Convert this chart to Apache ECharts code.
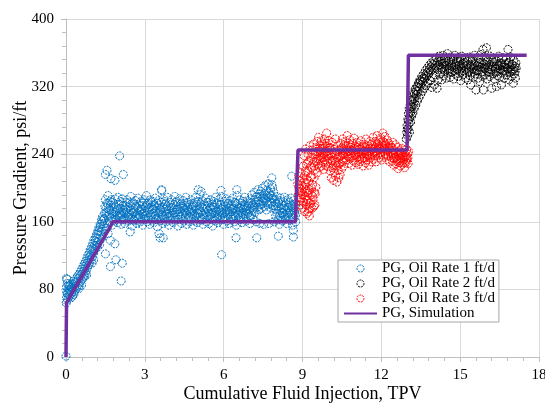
<!DOCTYPE html>
<html>
<head>
<meta charset="utf-8">
<script src="https://cdn.jsdelivr.net/npm/echarts@6/dist/echarts.min.js"></script>
<style>
html,body{margin:0;padding:0;background:#fff;}
#chart{width:545px;height:406px;}
</style>
</head>
<body>
<div id="chart"></div>
<script>
// ---- data ----
const xTicks = [0, 3, 6, 9, 12, 15, 18];
const yTicks = [0, 80, 160, 240, 320, 400];
const seriesNames = ['PG, Oil Rate 1 ft/d', 'PG, Oil Rate 2 ft/d', 'PG, Oil Rate 3 ft/d', 'PG, Simulation'];

// Oil Rate 1 ft/d
const rate1Points = [
[0,1],[0.01,64],[0.02,70],[0.03,76],[0.02,83],[0.04,92],[0.02,93],[0.06,68],[0.07,74],[0.08,80],[0.05,87],[0.1,71],[0.12,77],[0.13,84],[0.15,73],[0.17,79],[0.19,70],[0.2,82],[0.22,76],[0.25,72],[0.27,80],[0.29,86],[0.31,77],[0.33,83],[0.36,79],[0.38,88],[0.4,82],[0.42,90],[0.45,85],[0.47,93],[0.49,81],[0.52,88],[0.54,96],[0.57,90],[0.59,85],[0.61,98],[0.64,93],[0.66,101],[0.68,96],[0.7,95],[0.71,104],[0.73,99],[0.75,108],[0.77,102],[0.8,111],[0.82,106],[0.84,114],[0.87,109],[0.89,118],[0.91,112],[0.94,121],[0.96,116],[0.98,126],[0.99,111],[1.01,119],[1.03,128],[1.05,123],[1.08,132],[1.1,127],[1.12,137],[1.15,131],[1.17,141],[1.19,135],[1.2,130],[1.22,146],[1.24,139],[1.26,150],[1.29,144],[1.31,154],[1.33,148],[1.36,158],[1.38,151],[1.4,161],[1.42,155],[1.44,164],[1.46,158],
[0.05,75],[0.09,85],[0.14,80],[0.18,86],[0.23,83],[0.28,90],[0.34,88],[0.39,93],[0.44,96],[0.5,98],[0.55,101],[0.6,104],[0.65,107],[0.69,110],[0.74,113],[0.79,116],[0.83,120],[0.88,123],[0.92,127],[0.97,130],[1.02,134],[1.06,138],[1.11,141],[1.16,145],[1.21,149],[1.25,153],[1.3,157],[1.35,162],[1.39,166],[0.3,74],[0.5,84],[0.78,97],[1.05,115],[1.28,133],[1.35,140],
[1.46,163],[1.48,178],[1.5,186],[1.52,171],[1.54,152],[1.56,182],[1.58,167],[1.6,191],[1.62,175],[1.64,160],[1.66,174],[1.68,184],[1.7,179],[1.72,165],[1.74,170],[1.76,156],[1.78,183],[1.8,172],[1.82,169],[1.84,176],[1.86,161],[1.88,187],[1.9,163],[1.92,177],[1.94,173],[1.96,159],[1.98,189],
[2,166],[2.02,181],[2.04,170],[2.06,176],[2.08,168],[2.1,157],[2.12,162],[2.14,187],[2.16,174],[2.18,180],[2.2,171],[2.22,164],[2.24,158],[2.26,175],[2.28,183],[2.3,170],[2.32,186],[2.34,166],[2.36,177],[2.38,161],[2.4,172],[2.42,165],[2.44,179],[2.46,190],[2.48,174],[2.5,168],[2.52,155],
[2.54,183],[2.56,162],[2.58,176],[2.6,161],[2.62,172],[2.64,185],[2.66,178],[2.68,167],[2.7,158],[2.72,170],[2.74,188],[2.76,164],[2.78,181],[2.8,173],[2.82,160],[2.84,166],[2.86,184],[2.88,175],[2.9,169],[2.92,156],[2.94,179],[2.96,186],[2.98,163],[3,172],[3.02,177],[3.04,167],[3.06,191],
[3.08,160],[3.1,174],[3.12,182],[3.14,165],[3.16,171],[3.18,157],[3.2,186],[3.22,169],[3.24,178],[3.26,162],[3.28,175],[3.3,184],[3.32,170],[3.34,159],[3.36,180],[3.38,166],[3.4,188],[3.42,173],[3.44,163],[3.46,177],[3.48,154],[3.5,171],[3.52,185],[3.54,167],[3.56,179],[3.58,161],[3.6,174],
[3.62,183],[3.64,197],[3.66,168],[3.68,158],[3.7,176],[3.72,187],[3.74,164],[3.76,172],[3.78,181],[3.8,160],[3.82,169],[3.84,178],[3.86,189],[3.88,165],[3.9,174],[3.92,156],[3.94,183],[3.96,170],[3.98,162],[4,177],[4.02,186],[4.04,167],[4.06,173],[4.08,159],[4.1,180],[4.12,165],[4.14,190],
[4.16,171],[4.18,162],[4.2,178],[4.22,184],[4.24,168],[4.26,155],[4.28,175],[4.3,163],[4.32,187],[4.34,172],[4.36,166],[4.38,181],[4.4,158],[4.42,176],[4.44,169],[4.46,185],[4.48,161],[4.5,174],[4.52,179],[4.54,164],[4.56,189],[4.58,170],[4.6,157],[4.62,177],[4.64,183],[4.66,166],[4.68,173],
[4.7,160],[4.72,180],[4.74,171],[4.76,186],[4.78,163],[4.8,175],[4.82,168],[4.84,156],[4.86,182],[4.88,173],[4.9,161],[4.92,178],[4.94,189],[4.96,167],[4.98,174],[5,159],[5.02,184],[5.04,170],[5.06,165],[5.08,179],[5.1,192],[5.12,172],[5.14,162],[5.16,177],[5.18,185],[5.2,168],[5.22,157],
[5.24,175],[5.26,181],[5.28,164],[5.3,171],[5.32,188],[5.34,160],[5.36,176],[5.38,167],[5.4,183],[5.42,173],[5.44,158],[5.46,179],[5.48,169],[5.5,186],[5.52,163],[5.54,174],[5.56,180],[5.58,155],[5.6,170],[5.62,184],[5.64,166],[5.66,177],[5.68,161],[5.7,189],[5.72,172],[5.74,165],[5.76,181],
[5.78,159],[5.8,175],[5.82,186],[5.84,168],[5.86,173],[5.88,162],[5.9,180],[5.92,190],[5.94,170],[5.96,164],[5.98,177],[6,157],[6.02,184],[6.04,171],[6.06,166],[6.08,179],[6.1,187],[6.12,161],[6.14,174],[6.16,168],[6.18,182],[6.2,158],[6.22,176],[6.24,185],[6.26,165],[6.28,172],[6.3,180],
[6.32,163],[6.34,188],[6.36,170],[6.38,176],[6.4,160],[6.42,183],[6.44,167],[6.46,174],[6.48,156],[6.5,181],[6.52,191],[6.54,169],[6.56,177],[6.58,162],[6.6,173],[6.62,186],[6.64,166],[6.66,179],[6.68,171],[6.7,159],[6.72,184],[6.74,175],[6.76,164],[6.78,180],[6.8,189],[6.82,168],[6.84,174],
[6.86,161],[6.88,178],[6.9,185],[6.92,170],[6.94,165],[6.96,182],[6.98,174],[7,158],[7.02,187],[7.04,176],[7.06,168],[7.08,192],[7.1,180],[7.12,163],[7.14,173],[7.16,186],[7.18,195],[7.2,171],[7.22,183],[7.24,160],[7.26,190],[7.28,177],[7.3,198],[7.32,185],[7.34,174],[7.36,193],[7.38,158],
[7.4,181],[7.42,196],[7.44,176],[7.46,188],[7.48,200],[7.5,184],[7.52,157],[7.54,193],[7.56,178],[7.58,203],[7.6,186],[7.62,174],[7.64,197],[7.66,190],[7.68,180],[7.7,205],[7.72,158],[7.74,194],[7.76,183],[7.78,199],[7.8,176],[7.82,191],[7.84,187],[7.86,201],[7.88,179],[7.9,195],[7.92,160],
[7.94,186],[7.96,175],[7.98,167],[8,182],[8.02,190],[8.04,170],[8.06,162],[8.08,178],[8.1,185],[8.12,157],[8.14,173],[8.16,188],[8.18,166],[8.2,180],[8.22,171],[8.24,161],[8.26,184],[8.28,176],[8.3,168],[8.32,189],[8.34,163],[8.36,174],[8.38,181],[8.4,158],[8.42,170],[8.44,186],[8.46,165],
[8.48,177],[8.5,183],[8.52,162],[8.54,172],[8.56,188],[8.58,168],[8.6,179],[8.62,156],[8.64,174],[8.66,185],[8.68,164],[8.7,171],[8.72,181],[8.74,160],[8.76,176],
[1.47,170],[1.53,176],[1.59,181],[1.65,168],[1.71,186],[1.77,164],[1.83,180],[1.89,171],[1.95,167],[2.01,175],[2.07,184],[2.13,169],[2.19,163],[2.25,179],[2.31,174],[2.37,168],[2.43,183],[2.49,163],[2.55,171],[2.61,180],[2.67,165],[2.73,177],[2.79,168],[2.85,174],[2.91,182],[2.97,170],[3.03,164],[3.09,181],[3.15,176],[3.21,165],[3.27,183],[3.33,175],[3.39,168],[3.45,182],[3.51,164],[3.57,172],[3.63,177],[3.69,166],[3.75,184],[3.81,175],[3.87,170],[3.93,167],[3.99,180],[4.05,176],[4.11,171],[4.17,183],[4.23,175],[4.29,169],[4.35,180],[4.41,166],[4.47,177],[4.53,171],[4.59,182],[4.65,175],[4.71,166],[4.77,172],[4.83,179],[4.89,168],[4.95,183],[5.01,170],[5.07,174],[5.13,181],[5.19,163],[5.25,168],[5.31,178],[5.37,183],[5.43,166],[5.49,176],[5.55,169],[5.61,177],[5.67,171],[5.73,182],[5.79,167],[5.85,180],[5.91,175],[5.97,169],[6.03,165],[6.09,172],[6.15,181],[6.21,170],[6.27,178],[6.33,175],[6.39,167],[6.45,182],[6.51,172],[6.57,168],[6.63,176],[6.69,182],[6.75,169],[6.81,177],[6.87,172],[6.93,179],[6.99,167],[7.05,182],[7.11,175],[7.17,178],[7.23,189],[7.29,184],[7.35,180],[7.41,190],[7.47,181],[7.53,187],[7.59,192],[7.65,183],[7.71,189],[7.77,192],[7.83,182],[7.89,188],[7.95,179],[8.01,174],[8.07,183],[8.13,167],[8.19,176],[8.25,170],[8.31,179],[8.37,166],[8.43,177],[8.49,170],[8.55,180],[8.61,166],[8.67,177],[8.73,168],
[2.04,238],[1.56,221],[1.5,216],[1.71,211],[1.86,209],[2.18,216],[1.5,122],[1.69,107],[1.9,115],[2.14,111],[2.1,90],[1.86,134],[1.69,138],[1.6,146],[2.44,148],[3.58,141],[3.7,141],[3.54,146],[5.92,121],[6.47,141],[7.26,141],[8.08,143],[8.65,150],[8.65,142],[5.03,198],[5.9,197],[6.5,198],[7.83,212],[7.83,204],[8.59,214],[3.64,198],[5.14,196]
];

// Oil Rate 2 ft/d
const rate2Points = [
[12.95,258],[12.97,266],[12.98,274],[13,262],[13.01,281],[13.02,270],[13.03,288],[13.05,276],[13.06,294],[13.07,266],[13.08,284],[13.1,298],[13.11,278],[13.12,290],[13.14,304],[13.15,285],[13.17,296],[13.18,308],[13.2,289],[13.22,300],[13.23,313],[13.25,294],[13.27,306],[13.29,317],[13.31,298],[13.33,310],[13.35,320],[13.37,303],[13.39,314],[13.41,324],[13.43,307],[13.45,318],[13.47,328],[13.5,311],[13.52,322],[13.54,332],[13.57,315],[13.59,326],[13.61,335],[13.63,318],[13.66,329],[13.68,339],[13.7,321],[13.72,332],[13.75,342],[13.77,324],[13.8,335],[13.82,345],[13.85,327],[13.87,338],[13.9,348],[13.92,319],[13.95,331],[13.97,341],[14,351],[14.02,322],[14.05,334],[14.07,345],[14.1,354],[14.12,318],[14.15,328],[14.17,340],[14.2,356],
[12.99,270],[13.04,280],[13.09,291],[13.13,296],[13.16,302],[13.21,305],[13.26,311],[13.32,315],[13.38,320],[13.44,324],[13.49,326],[13.56,329],[13.62,330],[13.69,334],[13.76,337],[13.83,340],[13.89,343],[13.96,346],[14.03,348],[14.09,342],[14.14,349],[14.19,345],
[14.22,346],[14.25,335],[14.27,352],[14.3,328],[14.32,341],[14.35,357],[14.37,333],[14.4,348],[14.42,338],[14.45,354],[14.47,330],[14.5,344],[14.52,359],[14.55,336],[14.57,350],[14.6,341],[14.62,331],[14.65,355],[14.67,346],[14.7,337],[14.72,352],[14.75,329],[14.77,343],[14.8,357],[14.82,335],[14.85,348],[14.87,340],[14.9,354],[14.92,332],[14.95,345],[14.97,338],[15,351],[15.02,327],[15.05,342],[15.07,356],[15.1,334],[15.12,347],[15.15,339],[15.17,353],[15.2,330],[15.22,344],[15.25,336],[15.27,350],[15.3,328],[15.32,341],[15.35,355],[15.37,333],[15.4,322],[15.42,346],[15.45,337],[15.47,352],[15.5,331],[15.52,343],[15.55,357],[15.57,335],[15.6,316],[15.62,348],[15.65,339],[15.67,330],[15.7,353],[15.72,344],[15.75,326],[15.77,358],[15.8,337],[15.82,349],[15.85,332],[15.87,364],[15.88,316],[15.9,342],[15.92,355],[15.95,334],[15.97,346],[16,366],[16.02,329],[16.05,351],[16.07,338],[16.1,344],[16.12,332],[16.15,356],[16.17,340],[16.2,318],[16.22,349],[16.25,335],[16.27,353],[16.3,329],[16.32,343],[16.35,337],[16.38,320],[16.4,350],[16.42,333],[16.45,345],[16.47,356],[16.5,331],[16.52,341],[16.55,348],[16.57,322],[16.6,336],[16.62,354],[16.65,339],[16.67,330],[16.7,347],[16.72,343],[16.75,352],[16.77,334],[16.8,341],[16.82,364],[16.85,328],[16.87,349],[16.9,337],[16.92,355],[16.95,332],[16.97,346],[17,339],[17.02,324],[17.04,351],[17.06,335],[17.08,344],[17.1,330],[17.12,348],
[14.24,350],[14.29,342],[14.34,347],[14.39,340],[14.44,345],[14.49,351],[14.54,341],[14.59,348],[14.64,338],[14.69,344],[14.74,350],[14.79,339],[14.84,346],[14.89,341],[14.94,350],[14.99,344],[15.04,337],[15.09,347],[15.14,342],[15.19,349],[15.24,340],[15.29,346],[15.34,338],[15.39,344],[15.44,350],[15.49,341],[15.54,346],[15.59,339],[15.64,345],[15.69,340],[15.74,348],[15.79,343],[15.84,338],[15.89,347],[15.94,341],[15.99,349],[16.04,343],[16.09,337],[16.14,346],[16.19,340],[16.24,344],[16.29,349],[16.34,341],[16.39,346],[16.44,338],[16.49,345],[16.54,340],[16.59,347],[16.64,343],[16.69,338],[16.74,346],[16.79,341],[16.84,348],[16.89,343],[16.94,339],[16.99,346],[17.04,341],[17.09,338],[17.13,342]
];

// Oil Rate 3 ft/d
const rate3Points = [
[8.82,205],[8.84,192],[8.85,214],[8.87,185],[8.88,199],[8.9,208],[8.91,180],[8.93,195],[8.94,218],[8.96,188],[8.97,203],[8.99,176],[9,211],[9.01,192],[9.03,226],[9.04,183],[9.05,200],[9.07,238],[9.08,172],[9.09,215],[9.1,190],[9.12,246],[9.13,205],[9.14,180],[9.15,228],[9.17,196],[9.18,170],[9.19,220],[9.2,186],[9.21,240],[9.23,208],[9.24,175],[9.25,232],[9.26,167],[9.27,198],[9.28,250],[9.3,213],[9.31,182],[9.32,236],[9.33,192],[9.35,224],[9.36,176],[9.37,245],[9.38,204],[9.4,186],[9.41,230],[9.42,252],[9.44,212],[9.45,195],[9.46,240],[9.47,180],[9.49,222],[9.5,248],[9.51,201],
[8.86,200],[8.92,188],[8.98,196],[9.02,184],[9.06,207],[9.11,198],[9.16,186],[9.22,194],[9.27,182],[9.29,176],[9.34,200],[9.39,190],[9.43,178],[9.48,193],[9.11,220],[9.2,230],[9.3,225],[9.4,240],[9.45,226],[9.34,213],[9.22,172],[9.16,210],
[9.53,232],[9.55,255],[9.56,218],[9.58,243],[9.6,228],[9.61,260],[9.63,238],[9.64,224],[9.66,250],[9.68,233],[9.69,245],[9.71,226],[9.72,256],[9.74,240],[9.76,230],[9.77,252],[9.79,236],[9.8,222],[9.82,247],[9.84,258],[9.85,233],[9.87,242],[9.88,227],[9.9,253],[9.92,265],[9.93,238],[9.95,231],[9.96,249],[9.98,225],[10,244],[10.01,256],[10.03,235],
[10.05,248],[10.06,220],[10.08,230],[10.1,212],[10.11,241],[10.13,254],[10.15,224],[10.16,236],[10.18,209],[10.2,246],[10.21,218],[10.23,232],[10.25,258],[10.26,214],[10.28,240],[10.3,226],[10.31,207],[10.33,250],[10.35,221],[10.36,236],[10.38,212],[10.4,245],[10.41,229],[10.43,216],[10.45,253],[10.46,238],[10.48,222],[10.5,247],[10.51,231],[10.53,258],[10.55,240],[10.56,226],[10.58,251],[10.6,236],[10.62,244],
[10.64,255],[10.66,233],[10.68,246],[10.7,262],[10.72,238],[10.74,250],[10.76,229],[10.78,243],[10.8,257],[10.82,235],[10.84,248],[10.86,240],[10.88,227],[10.9,253],[10.92,244],[10.94,232],[10.96,259],[10.98,239],[11,249],[11.02,230],[11.04,245],[11.06,236],[11.08,254],[11.1,241],[11.12,228],[11.14,250],[11.16,237],[11.18,246],[11.2,231],[11.22,256],[11.24,240],[11.26,234],[11.28,249],[11.3,226],[11.32,243],[11.34,252],[11.36,236],[11.38,245],[11.4,230],[11.42,258],[11.44,241],[11.46,233],[11.48,250],[11.5,238],[11.52,227],[11.54,247],[11.56,255],[11.58,235],[11.6,244],[11.62,231],
[11.64,252],[11.66,240],[11.68,260],[11.7,234],[11.72,247],[11.74,238],[11.76,255],[11.78,243],[11.8,231],[11.82,250],[11.84,262],[11.86,239],[11.88,246],[11.9,256],[11.92,236],[11.94,249],[11.96,242],[11.98,259],[12,233],[12.02,252],[12.04,245],[12.06,265],[12.08,238],[12.1,254],[12.12,247],[12.14,261],[12.16,240],[12.18,251],[12.2,234],[12.22,257],[12.24,244],[12.26,238],[12.28,253],[12.3,247],[12.32,231],[12.34,250],[12.36,241],[12.38,236],
[12.4,248],[12.42,232],[12.44,254],[12.46,240],[12.48,227],[12.5,245],[12.52,236],[12.54,251],[12.56,229],[12.58,242],[12.6,234],[12.62,248],[12.64,223],[12.66,238],[12.68,244],[12.7,230],[12.72,226],[12.74,241],[12.76,235],[12.78,247],[12.8,228],[12.82,239],[12.84,233],[12.86,245],[12.88,224],[12.9,237],[12.92,242],[12.94,230],[12.96,246],[12.98,235],[13,240],[13.02,229],[13.04,243],
[9.54,240],[9.59,235],[9.65,244],[9.7,237],[9.75,247],[9.81,240],[9.86,250],[9.91,243],[9.97,238],[10.02,247],[10.07,240],[10.12,232],[10.17,226],[10.22,240],[10.27,230],[10.32,243],[10.37,227],[10.42,237],[10.47,246],[10.52,240],[10.57,233],[10.63,240],[10.67,250],[10.73,244],[10.77,237],[10.83,251],[10.87,245],[10.93,238],[10.97,247],[11.03,240],[11.07,248],[11.13,242],[11.17,234],[11.23,246],[11.27,241],[11.33,236],[11.37,248],[11.43,244],[11.47,239],[11.53,243],[11.57,238],[11.63,246],[11.67,250],[11.73,242],[11.77,248],[11.83,244],[11.87,252],[11.93,246],[11.97,240],[12.03,248],[12.07,255],[12.13,250],[12.17,245],[12.23,240],[12.27,246],[12.33,243],[12.37,248],[12.43,240],[12.47,235],[12.53,241],[12.57,237],[12.63,232],[12.67,240],[12.73,234],[12.77,240],[12.83,236],[12.87,230],[12.93,238],[12.97,233],[13.01,236]
];

// Simulation
const simX = [0, 0.02, 1.7, 1.78, 8.73, 8.83, 12.98, 13.03, 17.53];
const simY = [0, 64, 155, 160, 160, 245, 245, 357, 357];

// ---- chart ----
const FONT = 'Liberation Serif';
const colors = ['#0070C0', '#000000', '#FF0000', '#7030A0'];
const chart = echarts.init(document.getElementById('chart'), null, {renderer: 'canvas'});

function scatterSeries(name, pts, color) {
  return {
    name: name,
    type: 'scatter',
    data: pts,
    symbol: 'circle',
    symbolSize: 8,
    itemStyle: {color: 'rgba(0,0,0,0)', borderColor: color, borderWidth: 1, borderType: [2, 1], opacity: 1},
    emphasis: {disabled: true},
    animation: false
  };
}

const legendIconStyle = (c) => ({color: 'rgba(0,0,0,0)', borderColor: c, borderWidth: 1, borderType: [2, 1]});

chart.setOption({
  animation: false,
  backgroundColor: '#ffffff',
  textStyle: {fontFamily: FONT},
  grid: {left: 66, right: 6, top: 19, bottom: 49, containLabel: false, outerBoundsMode: 'none'},
  xAxis: {
    type: 'value', min: xTicks[0], max: xTicks[xTicks.length - 1], interval: xTicks[1] - xTicks[0],
    name: 'Cumulative Fluid Injection, TPV', nameLocation: 'middle', nameGap: 28, nameMoveOverlap: false,
    nameTextStyle: {fontFamily: FONT, fontSize: 18, color: '#000'},
    axisLine: {show: true, onZero: false, lineStyle: {color: '#bfbfbf', width: 1}},
    axisTick: {show: true, length: 5, lineStyle: {color: '#bfbfbf'}},
    minorTick: {show: true, splitNumber: 5, length: 4, lineStyle: {color: '#bfbfbf'}},
    splitLine: {show: true, lineStyle: {color: '#d9d9d9', width: 1}},
    axisLabel: {fontFamily: FONT, fontSize: 15, color: '#000', margin: 11}
  },
  yAxis: {
    type: 'value', min: yTicks[0], max: yTicks[yTicks.length - 1], interval: yTicks[1] - yTicks[0],
    name: 'Pressure Gradient, psi/ft', nameLocation: 'middle', nameGap: 36, nameMoveOverlap: false,
    nameTextStyle: {fontFamily: FONT, fontSize: 18, color: '#000'},
    axisLine: {show: true, lineStyle: {color: '#bfbfbf', width: 1}},
    axisTick: {show: true, length: 5, lineStyle: {color: '#bfbfbf'}},
    minorTick: {show: true, splitNumber: 5, length: 4, lineStyle: {color: '#bfbfbf'}},
    splitLine: {show: true, lineStyle: {color: '#d9d9d9', width: 1}},
    axisLabel: {fontFamily: FONT, fontSize: 15, color: '#000', margin: 12}
  },
  legend: {
    orient: 'vertical', left: 338, top: 260,
    padding: [1, 4, 1, 5], itemGap: 0, itemWidth: 33, itemHeight: 7,
    borderColor: '#a6a6a6', borderWidth: 1, backgroundColor: '#fff',
    textStyle: {fontFamily: FONT, fontSize: 15, color: '#000', lineHeight: 15},
    data: [
      {name: seriesNames[0], icon: 'circle', itemStyle: legendIconStyle(colors[0])},
      {name: seriesNames[1], icon: 'circle', itemStyle: legendIconStyle(colors[1])},
      {name: seriesNames[2], icon: 'circle', itemStyle: legendIconStyle(colors[2])},
      {name: seriesNames[3], itemStyle: {color: 'rgba(0,0,0,0)', borderWidth: 0, opacity: 0}}
    ]
  },
  series: [
    scatterSeries(seriesNames[0], rate1Points, colors[0]),
    scatterSeries(seriesNames[1], rate2Points, colors[1]),
    {
      name: seriesNames[3], type: 'line', data: simX.map((x, i) => [x, simY[i]]),
      symbol: 'none', lineStyle: {color: colors[3], width: 3.5}, itemStyle: {color: colors[3]},
      emphasis: {disabled: true}
    },
    scatterSeries(seriesNames[2], rate3Points, colors[2])
  ]
});
</script>
</body>
</html>
